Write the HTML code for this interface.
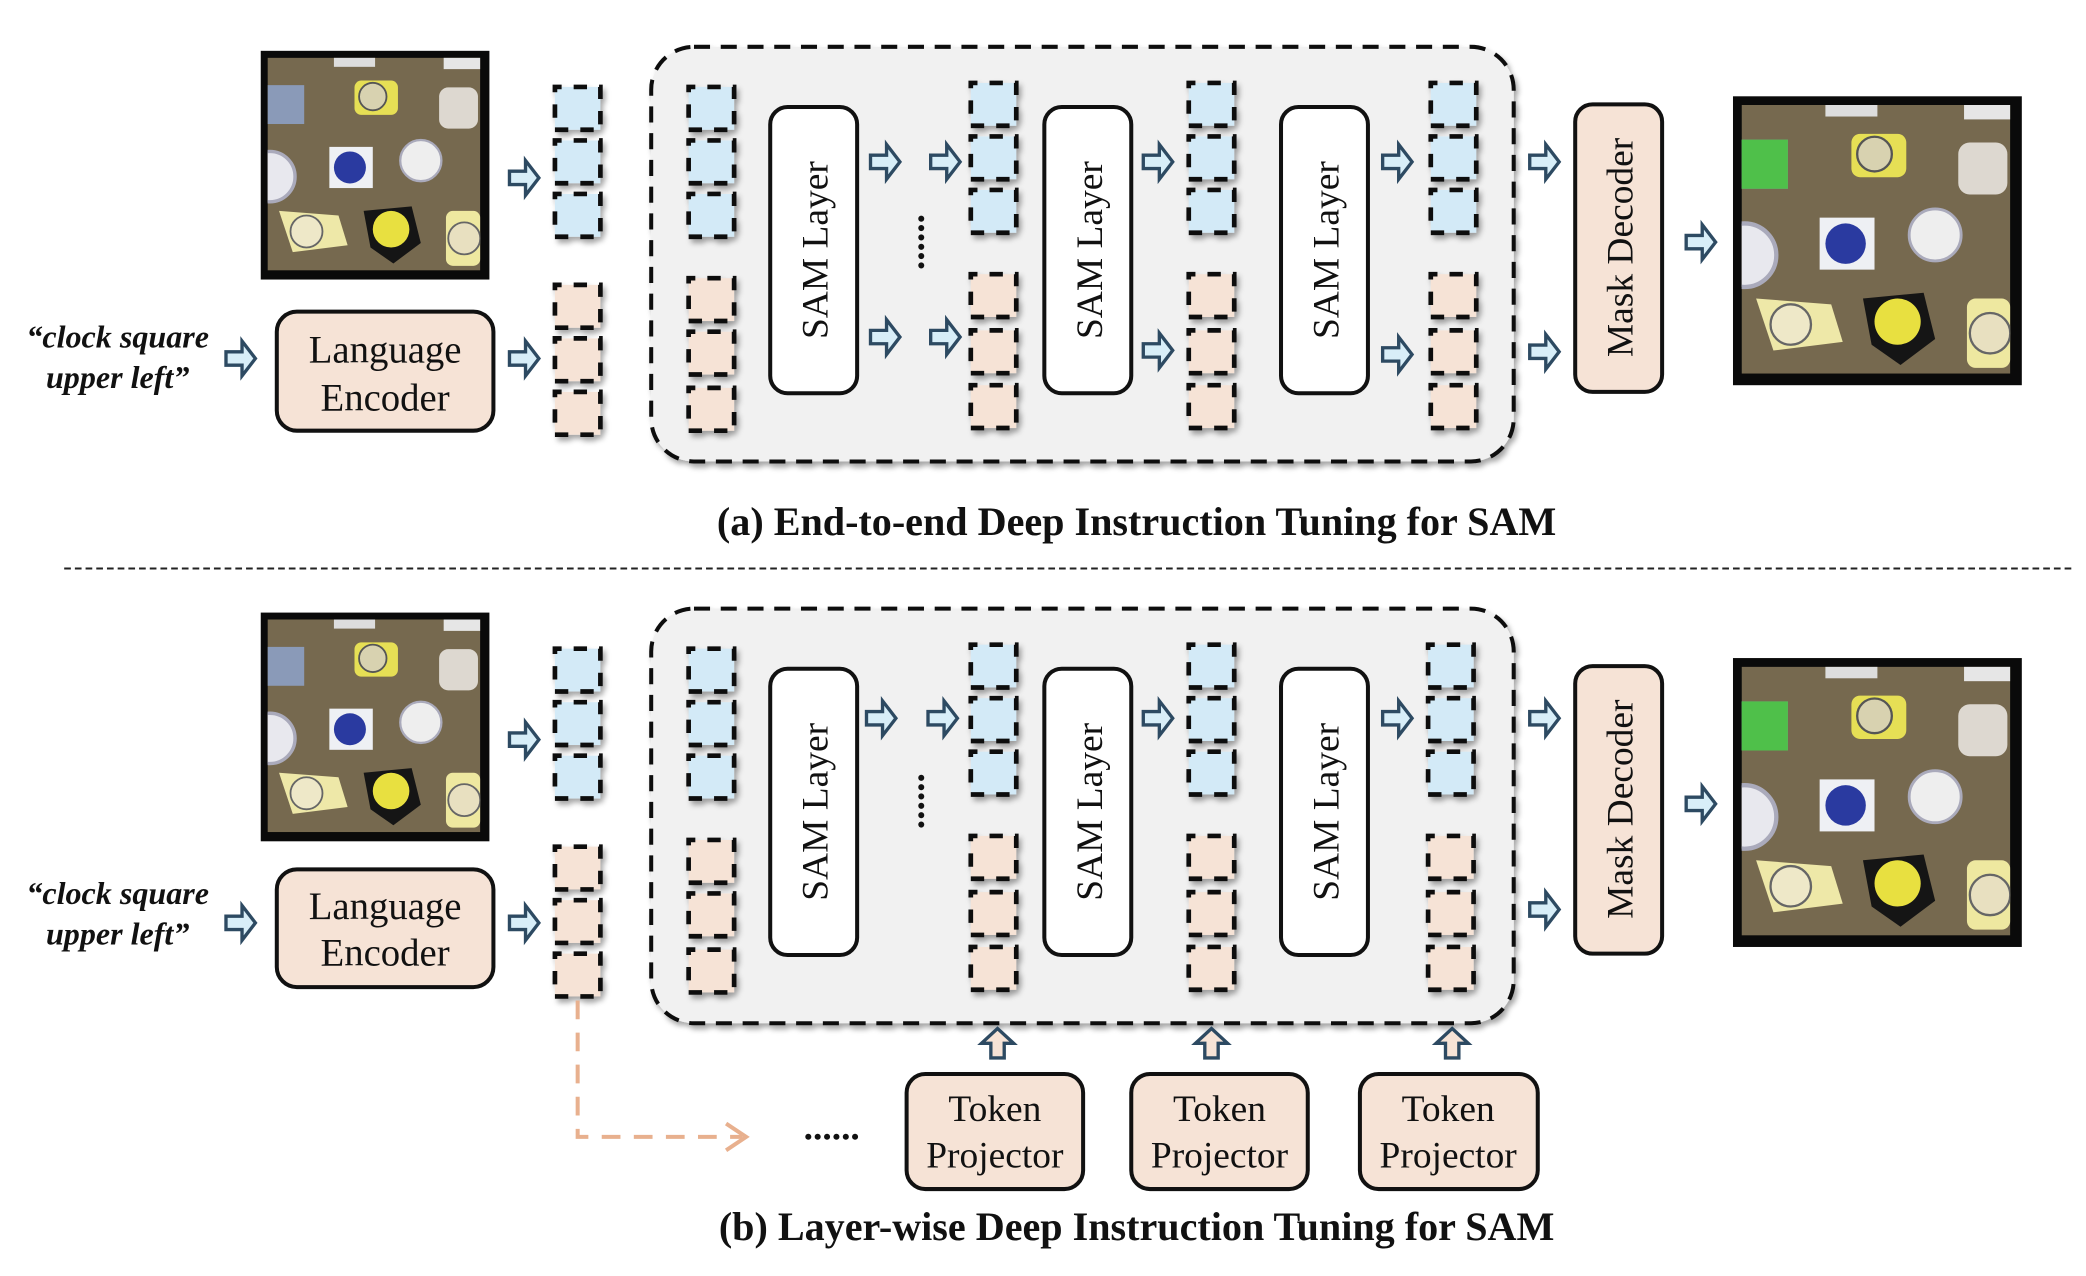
<!DOCTYPE html>
<html><head><meta charset="utf-8"><style>
html,body{margin:0;padding:0;background:#fff;}
svg{display:block;}
text{font-family:"Liberation Serif",serif;fill:#111;}
</style></head><body>
<svg width="2086" height="1276" viewBox="0 0 1560 954" preserveAspectRatio="none" xmlns="http://www.w3.org/2000/svg">
<defs>
<filter id="sh" x="-20%" y="-20%" width="150%" height="150%"><feDropShadow dx="2" dy="3" stdDeviation="2" flood-color="#000" flood-opacity="0.35"/></filter>
<clipPath id="ic"><rect x="3" y="3" width="93" height="93"/></clipPath>
<g id="tb"><rect x="0" y="0" width="34" height="32" fill="#d3eaf7" stroke="#111" stroke-width="3.5" stroke-dasharray="10 9" stroke-dashoffset="5" filter="url(#sh)"/></g>
<g id="tp"><rect x="0" y="0" width="34" height="32" fill="#f6e3d6" stroke="#111" stroke-width="3.5" stroke-dasharray="10 9" stroke-dashoffset="5" filter="url(#sh)"/></g>
<path id="ar" d="M-11,-5 L1,-5 L1,-13 L11,0 L1,13 L1,5 L-11,5 Z" fill="#d8eef8" stroke="#2d4a62" stroke-width="2.5" stroke-linejoin="miter"/>
<path id="au" d="M-5,11 L-5,0 L-12,0 L0,-11 L12,0 L5,0 L5,11 Z" fill="#f6e3d6" stroke="#2d4a62" stroke-width="2.5"/>
<g id="img">
<rect x="0" y="0" width="100" height="100" fill="#0a0a0a"/>
<g clip-path="url(#ic)">
<rect x="3" y="3" width="93" height="93" fill="#76694f"/>
<rect x="32" y="3" width="18" height="4" fill="#ddd"/>
<rect x="80" y="3" width="16" height="5" fill="#e6e6e6"/>
<rect x="3" y="15" width="16" height="17" fill="#8a9ab8"/>
<rect x="41" y="13" width="19" height="15" rx="3" fill="#e6df55"/>
<circle cx="49" cy="20" r="6" fill="#d8d2b0" stroke="#555" stroke-width="0.8"/>
<rect x="78" y="16" width="17" height="18" rx="4" fill="#ddd8d0"/>
<rect x="30" y="42" width="19" height="18" fill="#eef0f4"/>
<circle cx="39" cy="51" r="7" fill="#2a3aa0"/>
<circle cx="70" cy="48" r="9" fill="#eee" stroke="#aab" stroke-width="1"/>
<circle cx="4" cy="55" r="11" fill="#e8e8ee" stroke="#aab" stroke-width="1.5"/>
<path d="M8,70 L34,72 L38,85 L14,88 Z" fill="#eee8a8"/>
<circle cx="20" cy="79" r="7" fill="#eee8c8" stroke="#666" stroke-width="0.8"/>
<path d="M45,70 L66,68 L70,84 L58,93 L48,86 Z" fill="#151515"/>
<circle cx="57" cy="78" r="8" fill="#e8e040"/>
<rect x="81" y="70" width="15" height="24" rx="3" fill="#eee8a0"/>
<circle cx="89" cy="82" r="7" fill="#e8e0c0" stroke="#666" stroke-width="0.8"/>
</g>
</g>
</defs>

<!-- ========== PART A ========== -->
<use href="#img" transform="translate(195,38) scale(1.71)"/>
<text x="88" y="260" font-size="24" font-weight="bold" font-style="italic" text-anchor="middle">“clock square</text>
<text x="88" y="290" font-size="24" font-weight="bold" font-style="italic" text-anchor="middle">upper left”</text>
<use href="#ar" x="180" y="268"/>
<rect x="207" y="233" width="162" height="89" rx="15" fill="#f6e3d6" stroke="#111" stroke-width="3"/>
<text x="288" y="271" font-size="29" text-anchor="middle">Language</text>
<text x="288" y="307" font-size="29" text-anchor="middle">Encoder</text>
<use href="#ar" x="392" y="133"/>
<use href="#ar" x="392" y="268"/>
<use href="#tb" x="415" y="65"/><use href="#tb" x="415" y="105"/><use href="#tb" x="415" y="145"/>
<use href="#tp" x="415" y="213"/><use href="#tp" x="415" y="253"/><use href="#tp" x="415" y="293"/>

<rect x="487" y="35" width="645" height="310" rx="32" fill="#f1f1f1" stroke="#111" stroke-width="3" stroke-dasharray="12 8" filter="url(#sh)"/>
<use href="#tb" x="515" y="65"/><use href="#tb" x="515" y="105"/><use href="#tb" x="515" y="145"/>
<use href="#tp" x="515" y="208"/><use href="#tp" x="515" y="248"/><use href="#tp" x="515" y="290"/>
<rect x="576" y="80" width="65" height="214" rx="13" fill="#fff" stroke="#111" stroke-width="3"/>
<text transform="translate(619,187) rotate(-90)" font-size="28" text-anchor="middle">SAM Layer</text>
<use href="#ar" x="662" y="121"/><use href="#ar" x="662" y="252"/>
<text x="687" y="160" font-size="28" font-weight="bold" transform="rotate(90 687 160)">......</text>
<use href="#ar" x="707" y="121"/><use href="#ar" x="707" y="252"/>
<use href="#tb" x="726" y="62"/><use href="#tb" x="726" y="102"/><use href="#tb" x="726" y="142"/>
<use href="#tp" x="726" y="205"/><use href="#tp" x="726" y="247"/><use href="#tp" x="726" y="288"/>
<rect x="781" y="80" width="65" height="214" rx="13" fill="#fff" stroke="#111" stroke-width="3"/>
<text transform="translate(824,187) rotate(-90)" font-size="28" text-anchor="middle">SAM Layer</text>
<use href="#ar" x="866" y="121"/><use href="#ar" x="866" y="262"/>
<use href="#tb" x="889" y="62"/><use href="#tb" x="889" y="102"/><use href="#tb" x="889" y="142"/>
<use href="#tp" x="889" y="205"/><use href="#tp" x="889" y="247"/><use href="#tp" x="889" y="288"/>
<rect x="958" y="80" width="65" height="214" rx="13" fill="#fff" stroke="#111" stroke-width="3"/>
<text transform="translate(1001,187) rotate(-90)" font-size="28" text-anchor="middle">SAM Layer</text>
<use href="#ar" x="1045" y="121"/><use href="#ar" x="1045" y="265"/>
<use href="#tb" x="1070" y="62"/><use href="#tb" x="1070" y="102"/><use href="#tb" x="1070" y="142"/>
<use href="#tp" x="1070" y="205"/><use href="#tp" x="1070" y="247"/><use href="#tp" x="1070" y="288"/>
<use href="#ar" x="1155" y="121"/><use href="#ar" x="1155" y="263"/>
<rect x="1178" y="78" width="65" height="215" rx="13" fill="#f6e3d6" stroke="#111" stroke-width="3"/>
<text transform="translate(1221,185) rotate(-90)" font-size="28" text-anchor="middle">Mask Decoder</text>
<use href="#ar" x="1272" y="181"/>
<g transform="translate(1296,72) scale(2.16)"><use href="#img"/><rect x="3" y="15" width="16" height="17" fill="#4fc04a"/></g>
<text x="850" y="400" font-size="30" font-weight="bold" text-anchor="middle">(a) End-to-end Deep Instruction Tuning for SAM</text>

<line x1="48" y1="425" x2="1550" y2="425" stroke="#222" stroke-width="1.5" stroke-dasharray="5 3"/>

<!-- ========== PART B ========== -->
<use href="#img" transform="translate(195,458) scale(1.71)"/>
<text x="88" y="676" font-size="24" font-weight="bold" font-style="italic" text-anchor="middle">“clock square</text>
<text x="88" y="706" font-size="24" font-weight="bold" font-style="italic" text-anchor="middle">upper left”</text>
<use href="#ar" x="180" y="690"/>
<rect x="207" y="650" width="162" height="88" rx="15" fill="#f6e3d6" stroke="#111" stroke-width="3"/>
<text x="288" y="687" font-size="29" text-anchor="middle">Language</text>
<text x="288" y="722" font-size="29" text-anchor="middle">Encoder</text>
<use href="#ar" x="392" y="553"/>
<use href="#ar" x="392" y="690"/>
<use href="#tb" x="415" y="485"/><use href="#tb" x="415" y="525"/><use href="#tb" x="415" y="565"/>
<use href="#tp" x="415" y="633"/><use href="#tp" x="415" y="673"/><use href="#tp" x="415" y="713"/>

<path d="M432,748 L432,850 L555,850" fill="none" stroke="#e8b08e" stroke-width="3" stroke-dasharray="14 10"/>
<path d="M543,840 L558,850 L543,860" fill="none" stroke="#e8b08e" stroke-width="3"/>
<text x="622" y="852" font-size="28" font-weight="bold" text-anchor="middle">......</text>

<rect x="487" y="455" width="645" height="310" rx="32" fill="#f1f1f1" stroke="#111" stroke-width="3" stroke-dasharray="12 8" filter="url(#sh)"/>
<use href="#tb" x="515" y="485"/><use href="#tb" x="515" y="525"/><use href="#tb" x="515" y="565"/>
<use href="#tp" x="515" y="628"/><use href="#tp" x="515" y="668"/><use href="#tp" x="515" y="710"/>
<rect x="576" y="500" width="65" height="214" rx="13" fill="#fff" stroke="#111" stroke-width="3"/>
<text transform="translate(619,607) rotate(-90)" font-size="28" text-anchor="middle">SAM Layer</text>
<use href="#ar" x="659" y="537"/>
<text x="687" y="578" font-size="28" font-weight="bold" transform="rotate(90 687 578)">......</text>
<use href="#ar" x="705" y="537"/>
<use href="#tb" x="726" y="482"/><use href="#tb" x="726" y="522"/><use href="#tb" x="726" y="562"/>
<use href="#tp" x="726" y="625"/><use href="#tp" x="726" y="667"/><use href="#tp" x="726" y="708"/>
<rect x="781" y="500" width="65" height="214" rx="13" fill="#fff" stroke="#111" stroke-width="3"/>
<text transform="translate(824,607) rotate(-90)" font-size="28" text-anchor="middle">SAM Layer</text>
<use href="#ar" x="866" y="537"/>
<use href="#tb" x="889" y="482"/><use href="#tb" x="889" y="522"/><use href="#tb" x="889" y="562"/>
<use href="#tp" x="889" y="625"/><use href="#tp" x="889" y="667"/><use href="#tp" x="889" y="708"/>
<rect x="958" y="500" width="65" height="214" rx="13" fill="#fff" stroke="#111" stroke-width="3"/>
<text transform="translate(1001,607) rotate(-90)" font-size="28" text-anchor="middle">SAM Layer</text>
<use href="#ar" x="1045" y="537"/>
<use href="#tb" x="1068" y="482"/><use href="#tb" x="1068" y="522"/><use href="#tb" x="1068" y="562"/>
<use href="#tp" x="1068" y="625"/><use href="#tp" x="1068" y="667"/><use href="#tp" x="1068" y="708"/>
<use href="#ar" x="1155" y="537"/><use href="#ar" x="1155" y="680"/>
<rect x="1178" y="498" width="65" height="215" rx="13" fill="#f6e3d6" stroke="#111" stroke-width="3"/>
<text transform="translate(1221,605) rotate(-90)" font-size="28" text-anchor="middle">Mask Decoder</text>
<use href="#ar" x="1272" y="601"/>
<g transform="translate(1296,492) scale(2.16)"><use href="#img"/><rect x="3" y="15" width="16" height="17" fill="#4fc04a"/></g>

<use href="#au" x="746" y="780"/><use href="#au" x="906" y="780"/><use href="#au" x="1086" y="780"/>
<rect x="678" y="803" width="132" height="86" rx="14" fill="#f6e3d6" stroke="#111" stroke-width="3"/>
<text x="744" y="838" font-size="28" text-anchor="middle">Token</text>
<text x="744" y="873" font-size="28" text-anchor="middle">Projector</text>
<rect x="846" y="803" width="132" height="86" rx="14" fill="#f6e3d6" stroke="#111" stroke-width="3"/>
<text x="912" y="838" font-size="28" text-anchor="middle">Token</text>
<text x="912" y="873" font-size="28" text-anchor="middle">Projector</text>
<rect x="1017" y="803" width="133" height="86" rx="14" fill="#f6e3d6" stroke="#111" stroke-width="3"/>
<text x="1083" y="838" font-size="28" text-anchor="middle">Token</text>
<text x="1083" y="873" font-size="28" text-anchor="middle">Projector</text>
<text x="850" y="927" font-size="30" font-weight="bold" text-anchor="middle">(b) Layer-wise Deep Instruction Tuning for SAM</text>
</svg>
</body></html>
